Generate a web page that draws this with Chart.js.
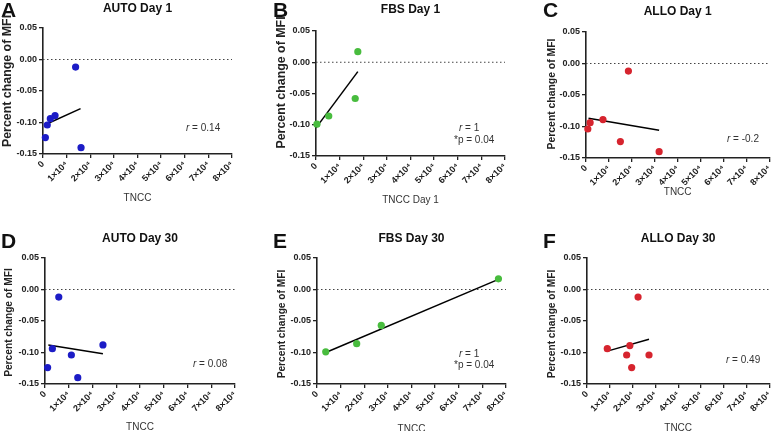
<!DOCTYPE html>
<html>
<head>
<meta charset="utf-8">
<script src="https://cdn.jsdelivr.net/npm/chart.js@4.4.1/dist/chart.umd.min.js"></script>
<style>
  body { margin: 0; background: #fff; }
  #wrap { position: relative; width: 778px; height: 431px; }
  canvas { position: absolute; }
</style>
</head>
<body>
<div id="wrap"></div>
<script>
// x axis ticks (TNCC), y axis ticks (percent change of MFI)
const xTicks = [0, 10000, 20000, 30000, 40000, 50000, 60000, 70000, 80000];
const yTicks = [-0.15, -0.10, -0.05, 0.00, 0.05];

// A - AUTO Day 1
const autoD1X = [13800, 1000, 1800, 3100, 5100, 16100];
const autoD1Y = [-0.012, -0.124, -0.104, -0.094, -0.089, -0.140];
const autoD1FitX = [1800, 15900];
const autoD1FitY = [-0.102, -0.078];
// B - FBS Day 1
const fbsD1X = [400, 5400, 16600, 17700];
const fbsD1Y = [-0.099, -0.086, -0.058, 0.017];
const fbsD1FitX = [0, 17700];
const fbsD1FitY = [-0.105, -0.015];
// C - ALLO Day 1
const alloD1X = [18500, 800, 1800, 7400, 15000, 31900];
const alloD1Y = [-0.012, -0.104, -0.094, -0.089, -0.124, -0.140];
const alloD1FitX = [1100, 31900];
const alloD1FitY = [-0.087, -0.106];
// D - AUTO Day 30
const autoD30X = [5800, 1100, 3100, 11100, 13800, 24400];
const autoD30Y = [-0.012, -0.124, -0.094, -0.104, -0.140, -0.088];
const autoD30FitX = [1400, 24400];
const autoD30FitY = [-0.088, -0.102];
// E - FBS Day 30
const fbsD30X = [3700, 16800, 27200, 76800];
const fbsD30Y = [-0.099, -0.086, -0.057, 0.017];
const fbsD30FitX = [3700, 76800];
const fbsD30FitY = [-0.100, 0.016];
// F - ALLO Day 30
const alloD30X = [22400, 8900, 18800, 17400, 19600, 27200];
const alloD30Y = [-0.012, -0.094, -0.089, -0.104, -0.124, -0.104];
const alloD30FitX = [9700, 27200];
const alloD30FitY = [-0.097, -0.079];

const BLUE = 'rgb(28,28,198)', GREEN = 'rgb(72,188,62)', RED = 'rgb(214,36,46)';
const FONT = '"Liberation Sans", Arial, sans-serif';

// layout of each panel: canvas box, chart area, and text placement (canvas coords)
const panels = [
  { letter: 'A', title: 'AUTO Day 1', xTitle: 'TNCC', x: autoD1X, y: autoD1Y, fx: autoD1FitX, fy: autoD1FitY, color: BLUE,
    box: [0, 0, 259, 215], area: [43, 232, 28, 154], letterPos: [1, 17], titleY: 12, yTitle: [8, 81, 12.4], xTitleY: 201,
    notes: [['0.14', 186, 131]] },
  { letter: 'B', title: 'FBS Day 1', xTitle: 'TNCC Day 1', x: fbsD1X, y: fbsD1Y, fx: fbsD1FitX, fy: fbsD1FitY, color: GREEN,
    box: [259, 0, 259, 215], area: [57, 246, 31, 156], letterPos: [14, 17], titleY: 13, yTitle: [23, 82.5, 12.4], xTitleY: 203,
    notes: [['1', 200, 131], ['*p = 0.04', 195, 143]] },
  { letter: 'C', title: 'ALLO Day 1', xTitle: 'TNCC', x: alloD1X, y: alloD1Y, fx: alloD1FitX, fy: alloD1FitY, color: RED,
    box: [518, 0, 260, 215], area: [68, 258, 32, 158], letterPos: [25, 17], titleY: 15, yTitle: [34.5, 94, 10.4], xTitleY: 195,
    notes: [['-0.2', 209, 142]] },
  { letter: 'D', title: 'AUTO Day 30', xTitle: 'TNCC', x: autoD30X, y: autoD30Y, fx: autoD30FitX, fy: autoD30FitY, color: BLUE,
    box: [0, 215, 259, 216], area: [45, 235, 43, 169], letterPos: [1, 33], titleY: 27, yTitle: [9.5, 107.5, 10.2], xTitleY: 215,
    notes: [['0.08', 193, 152]] },
  { letter: 'E', title: 'FBS Day 30', xTitle: 'TNCC', x: fbsD30X, y: fbsD30Y, fx: fbsD30FitX, fy: fbsD30FitY, color: GREEN,
    box: [259, 215, 259, 216], area: [58, 247, 43, 169], letterPos: [14, 33], titleY: 27, yTitle: [23.5, 109, 10.2], xTitleY: 217,
    notes: [['1', 200, 142], ['*p = 0.04', 195, 153]] },
  { letter: 'F', title: 'ALLO Day 30', xTitle: 'TNCC', x: alloD30X, y: alloD30Y, fx: alloD30FitX, fy: alloD30FitY, color: RED,
    box: [518, 215, 260, 216], area: [69, 258, 43, 169], letterPos: [25, 33], titleY: 27, yTitle: [34.5, 109, 10.2], xTitleY: 216,
    notes: [['0.49', 208, 148]] }
];

function textPlugin(p) {
  return {
    id: 'panelText',
    afterDraw(chart) {
      const c = chart.ctx, a = chart.chartArea;
      c.save();
      c.fillStyle = '#111';
      c.textBaseline = 'alphabetic';
      c.textAlign = 'left';
      c.font = 'bold 21px ' + FONT;
      c.fillText(p.letter, p.letterPos[0], p.letterPos[1]);
      c.textAlign = 'center';
      c.font = 'bold 12px ' + FONT;
      c.fillText(p.title, (a.left + a.right) / 2, p.titleY);
      c.fillStyle = '#333';
      c.font = '10px ' + FONT;
      c.fillText(p.xTitle, (a.left + a.right) / 2, p.xTitleY);
      // y axis title
      c.save();
      c.fillStyle = '#222';
      c.translate(p.yTitle[0], p.yTitle[1]);
      c.rotate(-Math.PI / 2);
      c.textBaseline = 'middle';
      c.font = 'bold ' + p.yTitle[2] + 'px ' + FONT;
      c.fillText('Percent change of MFI', 0, 0);
      c.restore();
      // r / p annotations
      c.textAlign = 'left';
      p.notes.forEach(n => {
        if (n[0].startsWith('*')) {
          c.font = '10px ' + FONT;
          c.fillText(n[0], n[1], n[2]);
        } else {
          c.font = 'italic 10px ' + FONT;
          c.fillText('r', n[1], n[2]);
          const w = c.measureText('r').width;
          c.font = '10px ' + FONT;
          c.fillText(' = ' + n[0], n[1] + w, n[2]);
        }
      });
      c.restore();
    }
  };
}

const wrap = document.getElementById('wrap');
panels.forEach(p => {
  const [bl, bt, bw, bh] = p.box;
  const [al, ar, at, ab] = p.area;
  const cv = document.createElement('canvas');
  cv.width = bw; cv.height = bh;
  cv.style.left = bl + 'px'; cv.style.top = bt + 'px';
  cv.style.width = bw + 'px'; cv.style.height = bh + 'px';
  wrap.appendChild(cv);

  new Chart(cv.getContext('2d'), {
    type: 'scatter',
    data: {
      datasets: [
        {
          type: 'scatter', order: 1,
          data: p.x.map((v, i) => ({ x: v, y: p.y[i] })),
          pointRadius: 3.6, pointBackgroundColor: p.color, pointBorderWidth: 0,
          clip: false
        },
        {
          type: 'line', order: 2,
          data: p.fx.map((v, i) => ({ x: v, y: p.fy[i] })),
          borderColor: '#000', borderWidth: 1.5, pointRadius: 0, fill: false, clip: false
        },
        {
          type: 'line', order: 3,
          data: [{ x: xTicks[0], y: 0 }, { x: xTicks[xTicks.length - 1], y: 0 }],
          borderColor: '#444', borderWidth: 1.2, borderDash: [1.5, 2.5], pointRadius: 0, fill: false
        }
      ]
    },
    options: {
      responsive: false,
      animation: false,
      events: [],
      layout: { padding: { left: 0, top: at, right: bw - ar, bottom: 0 } },
      plugins: { legend: { display: false }, tooltip: { enabled: false }, title: { display: false } },
      scales: {
        x: {
          type: 'linear',
          min: xTicks[0], max: xTicks[xTicks.length - 1],
          afterFit: s => { s.height = bh - ab; },
          afterBuildTicks: s => { s.ticks = xTicks.map(v => ({ value: v })); },
          ticks: {
            autoSkip: false, minRotation: 45, maxRotation: 45, padding: 1,
            color: '#222', font: { family: FONT, size: 9, weight: 'bold' },
            callback: v => v === 0 ? '0' : (v / 10000) + '×10⁴'
          },
          grid: { drawOnChartArea: false, drawTicks: true, tickLength: 4, color: '#222', lineWidth: 1.3 },
          border: { display: true, color: '#222', width: 1.6 }
        },
        y: {
          type: 'linear',
          min: yTicks[0], max: yTicks[yTicks.length - 1],
          afterFit: s => { s.width = al; },
          afterBuildTicks: s => { s.ticks = yTicks.map(v => ({ value: v })); },
          ticks: {
            padding: 2, color: '#222', font: { family: FONT, size: 9, weight: 'bold' },
            callback: v => (Math.abs(v) < 1e-9 ? 0 : v).toFixed(2)
          },
          grid: { drawOnChartArea: false, drawTicks: true, tickLength: 4, color: '#222', lineWidth: 1.3 },
          border: { display: true, color: '#222', width: 1.6 }
        }
      }
    },
    plugins: [textPlugin(p)]
  });
});
</script>
</body>
</html>
